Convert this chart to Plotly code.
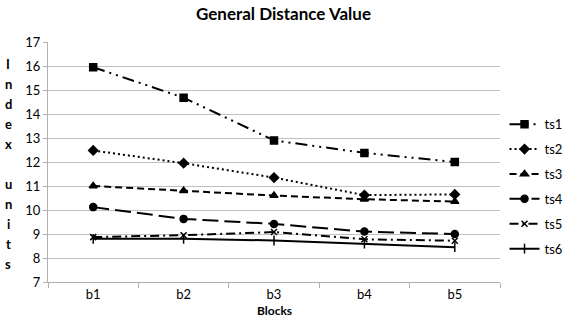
import plotly.graph_objects as go

blocks = ["b1", "b2", "b3", "b4", "b5"]
ts1 = [15.95, 14.68, 12.9, 12.38, 12.0]
ts2 = [12.48, 11.95, 11.35, 10.62, 10.65]
ts3 = [11.0, 10.8, 10.6, 10.45, 10.35]
ts4 = [10.12, 9.63, 9.42, 9.1, 9.0]
ts5 = [8.87, 8.95, 9.08, 8.78, 8.72]
ts6 = [8.8, 8.8, 8.73, 8.6, 8.45]
series_names = ["ts1", "ts2", "ts3", "ts4", "ts5", "ts6"]
y_title_letters = ["I", "n", "d", "e", "x", "", "u", "n", "i", "t", "s"]

styles = [
    dict(dash="12px,5px,2px,5px,2px,5px", symbol="square", size=7),
    dict(dash="2px,3px", symbol="diamond", size=7),
    dict(dash="7px,4px", symbol="triangle-up", size=7),
    dict(dash="16px,6px", symbol="circle", size=7),
    dict(dash="9px,4px,2px,4px", symbol="x-thin-open", size=6),
    dict(dash="solid", symbol="line-ns-open", size=7),
]

FONT = "Lato, 'Open Sans', sans-serif"
fig = go.Figure()
for i, (name, vals) in enumerate(zip(series_names, [ts1, ts2, ts3, ts4, ts5, ts6])):
    st = styles[i]
    fig.add_trace(go.Scatter(
        x=blocks, y=vals, name=name, mode="lines+markers", legendgroup=name,
        line=dict(color="black", width=2, dash=st["dash"]),
        marker=dict(symbol=st["symbol"], size=st["size"], color="black",
                    line=dict(color="black", width=1.5)),
    ))

fig.update_layout(
    width=567, height=332,
    margin=dict(l=48, r=67, t=42, b=50, autoexpand=False),
    paper_bgcolor="white", plot_bgcolor="white",
    font=dict(family=FONT, size=13, color="black"),
    title=dict(text="<b>General Distance Value</b>", x=0.5, xanchor="center",
               y=0.957, yanchor="middle", font=dict(size=17, family=FONT)),
    showlegend=True,
    legend=dict(x=1.01, xanchor="left", y=0.72, yanchor="top",
                tracegroupgap=5, font=dict(size=13), bgcolor="rgba(0,0,0,0)",
                itemwidth=30),
)
fig.update_xaxes(
    type="category", showgrid=False, showline=True, linecolor="#b0b0b0", linewidth=1,
    ticks="outside", tickson="boundaries", ticklen=5, tickcolor="#b0b0b0",
    tickfont=dict(size=13), range=[-0.5, 4.5], automargin=False,
)
fig.update_yaxes(
    range=[7, 17], dtick=1, showgrid=True, gridcolor="#c0c0c0", gridwidth=1,
    showline=True, linecolor="#b0b0b0", ticks="outside", ticklen=4, tickcolor="#b0b0b0",
    tickfont=dict(size=13), zeroline=False, automargin=False,
)
fig.add_annotation(text="<b>Blocks</b>", xref="paper", yref="paper", x=0.5, y=-0.12,
                   xanchor="center", yanchor="middle", showarrow=False, font=dict(size=12))
for k, ch in enumerate(y_title_letters):
    if ch:
        fig.add_annotation(text="<b>" + ch + "</b>", xref="paper", yref="paper",
                           x=-0.088, y=(218 - 20 * k) / 240,
                           xanchor="center", yanchor="middle", showarrow=False,
                           font=dict(size=13))

fig.write_html("out.html", config={"displayModeBar": False},
               post_script="document.body.style.margin='0';")
